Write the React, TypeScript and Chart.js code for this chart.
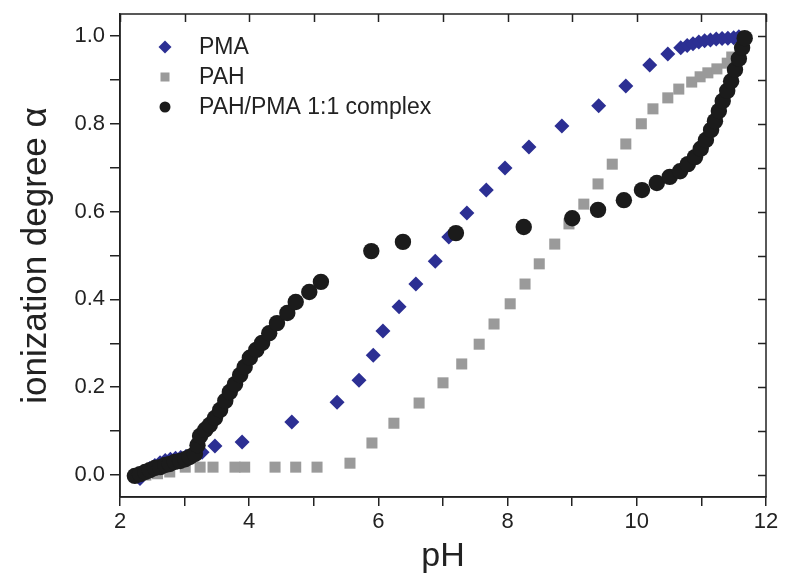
import React, { useEffect, useRef } from 'react';
import { Chart, registerables } from 'chart.js';

Chart.register(...registerables);

// ---- data ----
const pmaPH = [2.31, 2.38, 2.46, 2.54, 2.62, 2.70, 2.78, 2.86, 2.94, 3.02, 3.12, 3.27, 3.47, 3.89, 4.66, 5.36, 5.70, 5.92, 6.07, 6.32, 6.58, 6.88, 7.09, 7.37, 7.67, 7.96, 8.33, 8.84, 9.41, 9.83, 10.20, 10.48, 10.68, 10.78, 10.87, 10.96, 11.05, 11.14, 11.23, 11.32, 11.41, 11.50, 11.58];
const pmaAlpha = [-0.008, 0.005, 0.015, 0.022, 0.028, 0.033, 0.036, 0.038, 0.040, 0.042, 0.045, 0.052, 0.066, 0.075, 0.121, 0.166, 0.216, 0.273, 0.328, 0.383, 0.435, 0.487, 0.542, 0.597, 0.649, 0.699, 0.747, 0.795, 0.841, 0.886, 0.934, 0.959, 0.973, 0.978, 0.982, 0.986, 0.989, 0.991, 0.993, 0.994, 0.995, 0.996, 0.998];

const pahPH = [2.40, 2.58, 2.77, 3.01, 3.24, 3.44, 3.78, 3.93, 4.40, 4.72, 5.05, 5.56, 5.90, 6.24, 6.63, 7.00, 7.29, 7.56, 7.79, 8.04, 8.27, 8.49, 8.73, 8.95, 9.18, 9.40, 9.62, 9.83, 10.07, 10.25, 10.48, 10.65, 10.85, 10.98, 11.10, 11.24, 11.40, 11.47];
const pahAlpha = [0.0, 0.003, 0.007, 0.018, 0.018, 0.018, 0.018, 0.018, 0.018, 0.018, 0.018, 0.027, 0.073, 0.118, 0.164, 0.210, 0.253, 0.298, 0.344, 0.390, 0.435, 0.481, 0.526, 0.572, 0.617, 0.663, 0.708, 0.754, 0.800, 0.834, 0.859, 0.879, 0.895, 0.907, 0.916, 0.925, 0.938, 0.952];

const cplxPH = [2.23, 2.31, 2.39, 2.46, 2.54, 2.62, 2.70, 2.77, 2.85, 2.93, 3.01, 3.08, 3.16, 3.20, 3.24, 3.32, 3.39, 3.47, 3.55, 3.63, 3.70, 3.78, 3.86, 3.93, 4.01, 4.11, 4.20, 4.31, 4.43, 4.59, 4.72, 4.93, 5.11, 5.89, 6.38, 7.20, 8.25, 9.00, 9.40, 9.80, 10.08, 10.31, 10.51, 10.67, 10.79, 10.90, 10.99, 11.07, 11.15, 11.21, 11.27, 11.33, 11.40, 11.46, 11.52, 11.58, 11.63, 11.67];
const cplxAlpha = [-0.002, 0.002, 0.007, 0.011, 0.016, 0.018, 0.023, 0.025, 0.030, 0.032, 0.036, 0.041, 0.048, 0.068, 0.089, 0.103, 0.114, 0.130, 0.148, 0.169, 0.189, 0.207, 0.228, 0.246, 0.267, 0.285, 0.301, 0.323, 0.346, 0.369, 0.394, 0.417, 0.440, 0.510, 0.531, 0.551, 0.565, 0.585, 0.604, 0.626, 0.649, 0.665, 0.679, 0.692, 0.708, 0.724, 0.743, 0.763, 0.786, 0.806, 0.829, 0.852, 0.875, 0.897, 0.923, 0.948, 0.973, 0.995];

const seriesNames = ['PMA', 'PAH', 'PAH/PMA 1:1 complex'];
const xTickValues = [2, 3, 4, 5, 6, 7, 8, 9, 10, 11, 12];
const yTickValues = [0, 0.1, 0.2, 0.3, 0.4, 0.5, 0.6, 0.7, 0.8, 0.9, 1.0];
const xTitle = 'pH';
const yTitle = 'ionization degree α';

const BLUE = '#2c2f93';
const GREY = '#9a9a9a';
const BLACK = '#1b1b1b';
const AXIS = '#222222';
const FONT = "'Liberation Sans', Arial, Helvetica, sans-serif";

const toPoints = (xs: number[], ys: number[]) => xs.map((x, i) => ({ x, y: ys[i] }));

const framePlugin = {
  id: 'frameAndLegend',
  afterDraw(chart: any) {
    const { ctx, chartArea: a, scales } = chart;
    const xs = scales.x;
    const ys = scales.y;
    ctx.save();
    ctx.strokeStyle = AXIS;
    ctx.lineWidth = 1.5;
    ctx.strokeRect(a.left, a.top, a.right - a.left, a.bottom - a.top);
    ctx.beginPath();
    xTickValues.forEach((v) => {
      const px = Math.round(xs.getPixelForValue(v)) + 0.5;
      ctx.moveTo(px, a.top);
      ctx.lineTo(px, a.top + 8);
    });
    yTickValues.forEach((v) => {
      const py = Math.round(ys.getPixelForValue(v)) + 0.5;
      ctx.moveTo(a.right, py);
      ctx.lineTo(a.right - 8, py);
    });
    ctx.stroke();

    // legend
    const mx = a.left + 45;
    const tx = a.left + 79;
    const rows = [a.top + 33, a.top + 63, a.top + 93];
    ctx.fillStyle = BLUE;
    ctx.beginPath();
    ctx.moveTo(mx - 6.5, rows[0]);
    ctx.lineTo(mx, rows[0] - 6.5);
    ctx.lineTo(mx + 6.5, rows[0]);
    ctx.lineTo(mx, rows[0] + 6.5);
    ctx.closePath();
    ctx.fill();
    ctx.fillStyle = GREY;
    ctx.fillRect(mx - 4.5, rows[1] - 4.5, 9, 9);
    ctx.fillStyle = BLACK;
    ctx.beginPath();
    ctx.arc(mx, rows[2], 5.5, 0, Math.PI * 2);
    ctx.fill();

    ctx.fillStyle = AXIS;
    ctx.font = `23px ${FONT}`;
    ctx.textBaseline = 'middle';
    ctx.textAlign = 'left';
    seriesNames.forEach((n, i) => ctx.fillText(n, tx, rows[i] + 1));
    ctx.restore();
  },
};

export default function App() {
  const ref = useRef<HTMLCanvasElement | null>(null);

  useEffect(() => {
    document.body.style.margin = '0';
    const canvas = ref.current;
    if (!canvas) return;
    const chart = new Chart(canvas, {
      type: 'scatter',
      data: {
        datasets: [
          {
            label: seriesNames[0],
            data: toPoints(pmaPH, pmaAlpha),
            pointStyle: 'rectRot',
            pointRadius: 7.5,
            backgroundColor: BLUE,
            borderColor: BLUE,
            borderWidth: 0,
            order: 3,
          },
          {
            label: seriesNames[1],
            data: toPoints(pahPH, pahAlpha),
            pointStyle: 'rect',
            pointRadius: 7.8,
            backgroundColor: GREY,
            borderColor: GREY,
            borderWidth: 0,
            order: 2,
          },
          {
            label: seriesNames[2],
            data: toPoints(cplxPH, cplxAlpha),
            pointStyle: 'circle',
            pointRadius: 8.2,
            backgroundColor: BLACK,
            borderColor: BLACK,
            borderWidth: 0,
            order: 1,
          },
        ],
      },
      options: {
        animation: false,
        responsive: true,
        maintainAspectRatio: false,
        layout: { padding: { left: 0, top: 14, right: 25, bottom: 0 } },
        plugins: {
          legend: { display: false },
          tooltip: { enabled: false },
        },
        scales: {
          x: {
            type: 'linear',
            min: 2,
            max: 12,
            afterBuildTicks: (s: any) => {
              s.ticks = xTickValues.map((v) => ({ value: v }));
            },
            afterFit: (s: any) => {
              s.height = 80;
              s.paddingLeft = 0;
              s.paddingRight = 0;
            },
            ticks: {
              autoSkip: false,
              maxRotation: 0,
              padding: 3,
              color: AXIS,
              font: { size: 22, family: FONT },
              callback: (v: any) => (Number(v) % 2 === 0 ? String(v) : ''),
            },
            grid: { drawOnChartArea: false, drawTicks: true, tickLength: 9, color: AXIS, lineWidth: 1.5 },
            border: { display: true, color: AXIS, width: 1.5 },
            title: { display: true, text: xTitle, color: AXIS, font: { size: 34, family: FONT }, padding: { top: 0, bottom: 0 } },
          },
          y: {
            type: 'linear',
            min: -0.05,
            max: 1.05,
            afterBuildTicks: (s: any) => {
              s.ticks = yTickValues.map((v) => ({ value: v }));
            },
            afterFit: (s: any) => {
              s.width = 120;
              s.paddingTop = 0;
              s.paddingBottom = 0;
            },
            ticks: {
              autoSkip: false,
              padding: 5,
              color: AXIS,
              font: { size: 22, family: FONT },
              callback: (v: any) => {
                const n = Math.round(Number(v) * 10);
                return n % 2 === 0 ? (n / 10).toFixed(1) : '';
              },
            },
            grid: { drawOnChartArea: false, drawTicks: true, tickLength: 10, color: AXIS, lineWidth: 1.5 },
            border: { display: true, color: AXIS, width: 1.5 },
            title: { display: true, text: yTitle, color: AXIS, font: { size: 35, family: FONT }, padding: { top: 15, bottom: 0 } },
          },
        },
      },
      plugins: [framePlugin],
    });
    return () => chart.destroy();
  }, []);

  return (
    <div style={{ position: 'absolute', left: 0, top: 0, width: 791, height: 577 }}>
      <canvas ref={ref} />
    </div>
  );
}
